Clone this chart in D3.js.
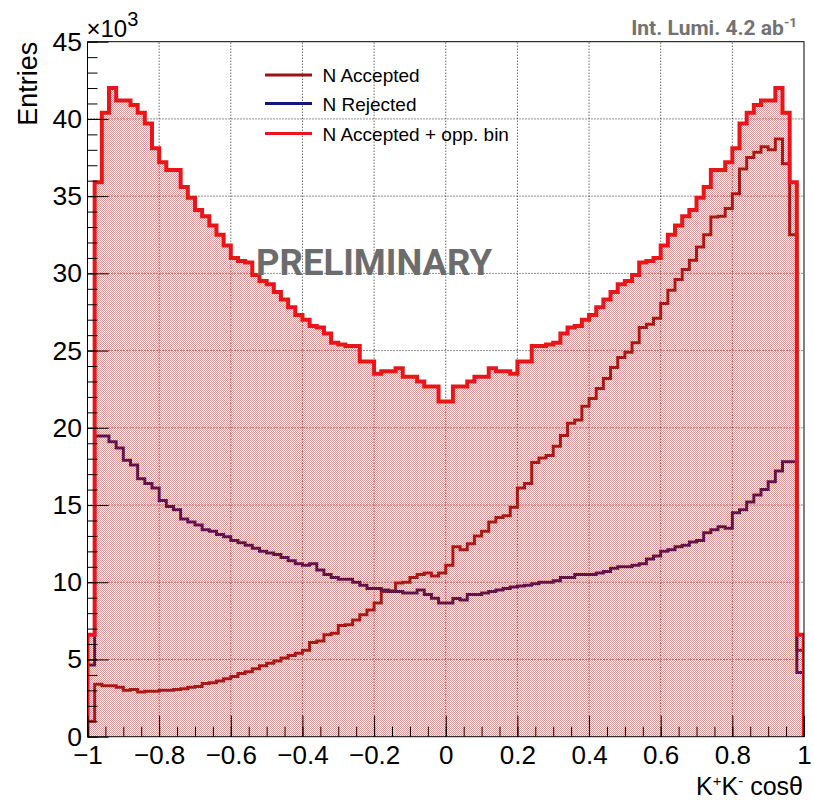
<!DOCTYPE html>
<html>
<head>
<meta charset="utf-8">
<script src="https://cdn.jsdelivr.net/npm/d3@7"></script>
<style>
  body { margin: 0; background: #fff; }
  svg { display: block; }
  text { font-family: "Liberation Sans", Arial, Helvetica, sans-serif; }
</style>
</head>
<body>
<div id="chart"></div>
<script>
// K+K- cos(theta) histograms, 100 bins on [-1, 1], contents in units of 10^3 entries
var xLow = -1, xHigh = 1, nBins = 100;

var nAccepted = [
  1.0, 3.4, 3.3, 3.3, 3.2, 3.0, 3.05, 2.9, 2.95, 2.95,
  3.0, 3.0, 3.05, 3.1, 3.2, 3.25, 3.45, 3.5, 3.6, 3.75,
  3.9, 4.1, 4.2, 4.4, 4.6, 4.75, 4.9, 5.1, 5.25, 5.4,
  5.6, 6.1, 6.2, 6.6, 6.7, 7.2, 7.25, 7.55, 7.9, 8.2,
  8.65, 9.4, 9.45, 9.95, 10.0, 10.3, 10.5, 10.6, 10.4, 10.6,
  11.1, 12.3, 12.1, 12.5, 13.0, 13.3, 13.9, 14.2, 14.3, 14.85,
  16.1, 16.4, 17.75, 18.05, 18.2, 18.8, 19.5, 20.3, 20.5, 21.4,
  21.9, 22.55, 23.2, 23.9, 24.55, 24.9, 25.5, 26.5, 26.7, 27.1,
  28.05, 28.9, 29.6, 30.25, 30.85, 31.7, 32.5, 33.65, 33.7, 34.2,
  35.15, 36.75, 37.5, 37.85, 38.2, 38.0, 38.7, 37.1, 32.5, 5.6
];

var nRejected = [
  4.64, 19.47, 19.47, 19.1, 18.7, 17.9, 17.6, 16.7, 16.4, 16.1,
  15.3, 14.9, 14.7, 14.1, 13.9, 13.7, 13.4, 13.3, 13.1, 12.95,
  12.7, 12.55, 12.4, 12.2, 12.0, 11.9, 11.8, 11.6, 11.4, 11.2,
  11.1, 11.2, 10.8, 10.5, 10.3, 10.2, 10.2, 10.0, 9.8, 9.6,
  9.6, 9.5, 9.4, 9.4, 9.3, 9.3, 9.5, 9.2, 8.96, 8.65,
  8.65, 8.95, 8.85, 9.2, 9.2, 9.3, 9.4, 9.5, 9.6, 9.7,
  9.75, 9.8, 9.9, 10.0, 10.0, 10.1, 10.3, 10.3, 10.5, 10.5,
  10.5, 10.6, 10.7, 10.9, 11.0, 11.0, 11.1, 11.2, 11.5, 11.7,
  12.0, 12.1, 12.3, 12.4, 12.6, 12.7, 13.2, 13.4, 13.6, 13.5,
  14.5, 14.7, 15.2, 15.65, 16.0, 16.5, 17.2, 17.8, 17.8, 4.15
];

var nAcceptedOpp = [
  6.6, 35.9, 40.4, 42.0, 41.2, 41.2, 40.9, 40.4, 39.7, 38.1,
  37.2, 36.7, 36.7, 35.6, 34.9, 34.1, 33.7, 33.1, 32.5, 31.8,
  31.0, 30.8, 30.7, 29.9, 29.5, 29.3, 28.8, 28.3, 27.8, 27.3,
  27.0, 26.6, 26.5, 26.1, 25.5, 25.4, 25.3, 25.3, 24.3, 24.3,
  23.5, 23.66, 23.66, 23.85, 23.3, 23.3, 23.0, 22.67, 22.67, 21.7,
  21.7, 22.67, 22.67, 23.0, 23.3, 23.3, 23.85, 23.66, 23.66, 23.5,
  24.3, 24.3, 25.3, 25.3, 25.4, 25.5, 26.1, 26.5, 26.6, 27.0,
  27.3, 27.8, 28.3, 28.8, 29.3, 29.5, 29.9, 30.7, 30.8, 31.0,
  31.8, 32.5, 33.1, 33.7, 34.1, 34.9, 35.6, 36.7, 36.7, 37.2,
  38.1, 39.7, 40.4, 40.9, 41.2, 41.2, 42.0, 40.4, 35.9, 6.6
];

var xTicks = [-1, -0.8, -0.6, -0.4, -0.2, 0, 0.2, 0.4, 0.6, 0.8, 1];
var yTicks = [0, 5, 10, 15, 20, 25, 30, 35, 40, 45];

var legendItems = [
  { label: "N Accepted", color: "#9a1216" },
  { label: "N Rejected", color: "#16157f" },
  { label: "N Accepted + opp. bin", color: "#e8161b" }
];

var width = 814, height = 800;
var margin = { top: 41.7, right: 10, bottom: 63.3, left: 87.5 };

var svg = d3.select("#chart").append("svg")
    .attr("width", width)
    .attr("height", height);

var xScale = d3.scaleLinear()
    .domain([xLow, xHigh])
    .range([margin.left, width - margin.right]);

var yScale = d3.scaleLinear()
    .domain([0, 45])
    .range([height - margin.bottom, margin.top]);

var binW = (xHigh - xLow) / nBins;
var edges = d3.range(nBins + 1).map(function(i) { return xLow + i * binW; });

// dotted fill pattern (transparent between the dots)
var defs = svg.append("defs");
var pat = defs.append("pattern")
    .attr("id", "dots")
    .attr("width", 2).attr("height", 2)
    .attr("patternUnits", "userSpaceOnUse");
pat.append("rect").attr("x", 0).attr("y", 0).attr("width", 1).attr("height", 1).attr("fill", "rgba(190,50,50,0.52)");
pat.append("rect").attr("x", 1).attr("y", 1).attr("width", 1).attr("height", 1).attr("fill", "rgba(190,50,50,0.52)");

defs.append("clipPath").attr("id", "frameClip")
  .append("rect")
    .attr("x", xScale(xLow)).attr("y", yScale(45))
    .attr("width", xScale(xHigh) - xScale(xLow))
    .attr("height", yScale(0) - yScale(45));

// step outline of a histogram
function stepPoints(vals) {
    var pts = [[edges[0], 0]];
    vals.forEach(function(v, i) {
        pts.push([edges[i], v]);
        pts.push([edges[i + 1], v]);
    });
    pts.push([edges[nBins], 0]);
    return pts;
}

var line = d3.line()
    .x(function(d) { return xScale(d[0]); })
    .y(function(d) { return yScale(d[1]); });

// grid
var grid = svg.append("g").attr("class", "grid");
grid.selectAll(".gx")
    .data(xTicks.slice(1, -1))
    .enter().append("line")
    .attr("x1", function(d) { return xScale(d); })
    .attr("x2", function(d) { return xScale(d); })
    .attr("y1", yScale(0)).attr("y2", yScale(45))
    .attr("stroke", "#222").attr("stroke-width", 1)
    .attr("stroke-dasharray", "1,2");
grid.selectAll(".gy")
    .data(yTicks.slice(1, -1))
    .enter().append("line")
    .attr("x1", xScale(xLow)).attr("x2", xScale(xHigh))
    .attr("y1", function(d) { return yScale(d); })
    .attr("y2", function(d) { return yScale(d); })
    .attr("stroke", "#222").attr("stroke-width", 1)
    .attr("stroke-dasharray", "1,2");

var plot = svg.append("g").attr("clip-path", "url(#frameClip)");

plot.append("path")
    .attr("d", line(stepPoints(nAccepted)))
    .attr("fill", "none")
    .attr("stroke", legendItems[0].color)
    .attr("stroke-width", 3);

plot.append("path")
    .attr("d", line(stepPoints(nRejected)))
    .attr("fill", "none")
    .attr("stroke", legendItems[1].color)
    .attr("stroke-width", 3);

plot.append("path")
    .attr("d", line(stepPoints(nAcceptedOpp)) + "Z")
    .attr("fill", "url(#dots)")
    .attr("stroke", "none");

plot.append("path")
    .attr("d", line(stepPoints(nAcceptedOpp)))
    .attr("fill", "none")
    .attr("stroke", legendItems[2].color)
    .attr("stroke-width", 4);

// axes
var xMinor = d3.range(0, 41).map(function(i) { return xLow + i * 0.05; });
var yMinor = d3.range(0, 46);

var xAxis = svg.append("g")
    .attr("transform", "translate(0," + yScale(0) + ")");
xAxis.append("g")
    .call(d3.axisBottom(xScale).tickValues(xMinor).tickSize(-10).tickFormat(""))
    .call(function(g) { g.select(".domain").remove(); });
xAxis.append("g")
    .call(d3.axisBottom(xScale).tickValues(xTicks).tickSize(-21).tickPadding(8.5)
        .tickFormat(function(d) { return d3.format("")(+d.toFixed(1)); }))
    .call(function(g) { g.select(".domain").remove(); })
    .selectAll("text")
    .attr("font-size", 26)
    .attr("fill", "#000")
    .style("font-family", "'Liberation Sans', Arial, sans-serif");

var yAxis = svg.append("g")
    .attr("transform", "translate(" + xScale(xLow) + ",0)");
yAxis.append("g")
    .call(d3.axisLeft(yScale).tickValues(yMinor).tickSize(-10).tickFormat(""))
    .call(function(g) { g.select(".domain").remove(); });
yAxis.append("g")
    .call(d3.axisLeft(yScale).tickValues(yTicks).tickSize(-21).tickPadding(5.5))
    .call(function(g) { g.select(".domain").remove(); })
    .selectAll("text")
    .attr("font-size", 26.5)
    .attr("fill", "#000")
    .style("font-family", "'Liberation Sans', Arial, sans-serif");

svg.selectAll(".tick line").attr("stroke", "#000");

// frame
svg.append("rect")
    .attr("x", xScale(xLow)).attr("y", yScale(45))
    .attr("width", xScale(xHigh) - xScale(xLow))
    .attr("height", yScale(0) - yScale(45))
    .attr("fill", "none")
    .attr("stroke", "#000")
    .attr("stroke-width", 1);

// axis titles
svg.append("text")
    .attr("transform", "translate(36.5," + yScale(45) + ") rotate(-90)")
    .attr("text-anchor", "end")
    .attr("font-size", 27)
    .text("Entries");

var exp = svg.append("text")
    .attr("x", xScale(xLow) - 1)
    .attr("y", 37)
    .attr("font-size", 24);
exp.append("tspan").text("\u00d710");
exp.append("tspan").attr("dy", -11).attr("font-size", 20).text("3");

var xt = svg.append("text")
    .attr("x", 803)
    .attr("y", 794.5)
    .attr("text-anchor", "end")
    .attr("font-size", 25);
xt.append("tspan").text("K");
xt.append("tspan").attr("dy", -9).attr("font-size", 15).text("+");
xt.append("tspan").attr("dy", 9).text("K");
xt.append("tspan").attr("dy", -9).attr("font-size", 15).text("-");
xt.append("tspan").attr("dy", 9).text(" cos\u03b8");

// legend
var leg = svg.append("g").attr("class", "legend");
var legY = [75, 103.5, 133.5];
legendItems.forEach(function(item, i) {
    leg.append("line")
        .attr("x1", 265).attr("x2", 312)
        .attr("y1", legY[i]).attr("y2", legY[i])
        .attr("stroke", item.color)
        .attr("stroke-width", 3);
    leg.append("text")
        .attr("x", 322.5).attr("y", legY[i] + 7)
        .attr("font-size", 19)
        .text(item.label);
});

// labels
svg.append("text")
    .attr("x", 256)
    .attr("y", 275)
    .attr("font-size", 36.5)
    .attr("font-weight", "bold")
    .attr("fill", "#6c6c6c")
    .style("font-family", "Roboto, sans-serif")
    .text("PRELIMINARY");

var lumi = svg.append("text")
    .attr("x", 797)
    .attr("y", 35)
    .attr("text-anchor", "end")
    .attr("font-size", 21)
    .attr("font-weight", "bold")
    .attr("fill", "#727272")
    .style("font-family", "Roboto, sans-serif");
lumi.append("tspan").text("Int. Lumi. 4.2 ab");
lumi.append("tspan").attr("dy", -8).attr("font-size", 13.5).text("-1");
</script>
</body>
</html>
